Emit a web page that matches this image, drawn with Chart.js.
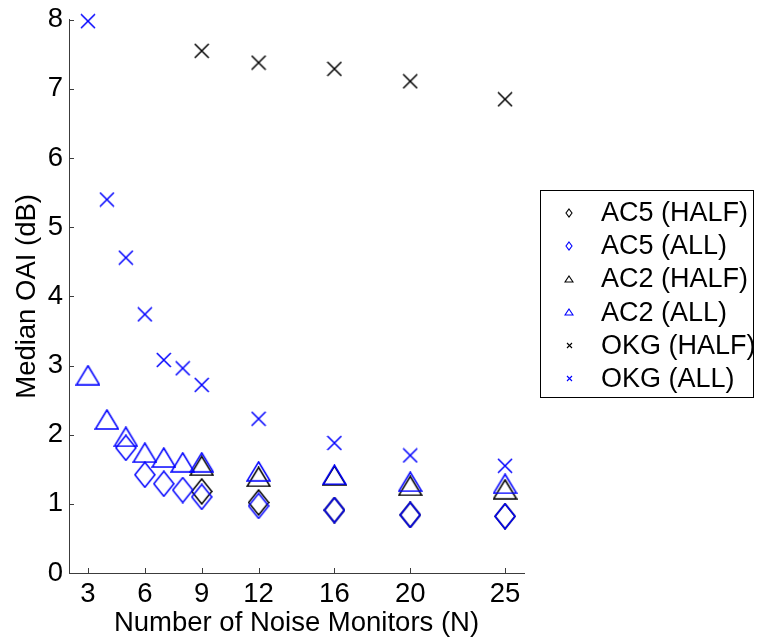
<!DOCTYPE html>
<html>
<head>
<meta charset="utf-8">
<title>Median OAI vs number of noise monitors</title>
<script src="https://cdn.jsdelivr.net/npm/chart.js@4.4.1/dist/chart.umd.min.js"></script>
<style>
  html, body { margin: 0; padding: 0; background: #fff; }
  #oai { display: block; }
</style>
</head>
<body>
<canvas id="oai" width="771" height="643"></canvas>
<script>
// monitor counts used by each run
const N_ALL = [3, 4, 5, 6, 7, 8, 9, 12, 16, 20, 25];
const N_AC5_ALL = [5, 6, 7, 8, 9, 12, 16, 20, 25];
const N_HALF = [9, 12, 16, 20, 25];

// axis ticks
const X_TICKS = [3, 6, 9, 12, 16, 20, 25];
const Y_TICKS = [0, 1, 2, 3, 4, 5, 6, 7, 8];

// median OAI (dB)
const ac5Half = [1.18, 1.02, 0.91, 0.84, 0.82];
const ac5All = [1.81, 1.42, 1.29, 1.20, 1.10, 0.97, 0.91, 0.84, 0.82];
const ac2Half = [1.55, 1.39, 1.41, 1.26, 1.21];
const ac2All = [2.86, 2.22, 1.97, 1.74, 1.67, 1.60, 1.60, 1.47, 1.42, 1.32, 1.29];
const okgHalf = [7.55, 7.38, 7.29, 7.11, 6.85];
const okgAll = [7.98, 5.40, 4.56, 3.74, 3.08, 2.96, 2.72, 2.23, 1.88, 1.70, 1.55];

const FONT = { family: '"Liberation Sans", Arial, Helvetica, sans-serif', size: 27.5, lineHeight: 1 };
const LEGEND_FONT_SIZE = 27;
const AXIS_COLOR = '#3c3c3c';
const BLACK = '#000000';
const BLUE = '#0000ff';

// outline markers drawn onto small canvases (used as pointStyle)
function marker(shape, color, w, h, lw) {
  const c = document.createElement('canvas');
  c.width = w + 2;
  c.height = h + 2;
  const g = c.getContext('2d');
  g.strokeStyle = color;
  g.lineWidth = lw;
  g.beginPath();
  if (shape === 'diamond') {
    g.moveTo(1 + w / 2, 1);
    g.lineTo(1 + w, 1 + h / 2);
    g.lineTo(1 + w / 2, 1 + h);
    g.lineTo(1, 1 + h / 2);
    g.closePath();
  } else if (shape === 'triangle') {
    g.moveTo(1 + w / 2, 1);
    g.lineTo(1 + w, 1 + h);
    g.lineTo(1, 1 + h);
    g.closePath();
  } else {
    g.moveTo(1, 1);
    g.lineTo(1 + w, 1 + h);
    g.moveTo(1 + w, 1);
    g.lineTo(1, 1 + h);
  }
  g.stroke();
  return c;
}

const SIZES = { diamond: [20, 25], triangle: [23, 19], cross: [14, 14] };
const LEGEND_SIZES = { diamond: [6, 8], triangle: [8, 6], cross: [5, 5] };

const series = [
  { label: 'AC5 (HALF)', n: N_HALF, v: ac5Half, shape: 'diamond', color: BLACK },
  { label: 'AC5 (ALL)', n: N_AC5_ALL, v: ac5All, shape: 'diamond', color: BLUE },
  { label: 'AC2 (HALF)', n: N_HALF, v: ac2Half, shape: 'triangle', color: BLACK },
  { label: 'AC2 (ALL)', n: N_ALL, v: ac2All, shape: 'triangle', color: BLUE },
  { label: 'OKG (HALF)', n: N_HALF, v: okgHalf, shape: 'cross', color: BLACK },
  { label: 'OKG (ALL)', n: N_ALL, v: okgAll, shape: 'cross', color: BLUE }
];

const datasets = series.map((s, i) => ({
  label: s.label,
  data: s.n.map((n, k) => ({ x: n, y: s.v[k] })),
  pointStyle: marker(s.shape, s.color, ...SIZES[s.shape], 1.5),
  legendMarker: marker(s.shape, s.color, ...LEGEND_SIZES[s.shape], 1.1),
  pointRadius: 10,
  borderColor: s.color,
  backgroundColor: 'transparent',
  showLine: false,
  clip: false,
  order: series.length - i
}));

// short tick marks pointing into the plot area
const innerTicks = {
  id: 'innerTicks',
  beforeDatasetsDraw(chart) {
    const { ctx, chartArea: a, scales: { x, y } } = chart;
    ctx.save();
    ctx.strokeStyle = AXIS_COLOR;
    ctx.lineWidth = 1;
    ctx.beginPath();
    X_TICKS.forEach(v => {
      const px = Math.round(x.getPixelForValue(v)) + 0.5;
      ctx.moveTo(px, a.bottom);
      ctx.lineTo(px, a.bottom - 5);
    });
    Y_TICKS.forEach(v => {
      const py = Math.round(y.getPixelForValue(v)) + 0.5;
      ctx.moveTo(a.left, py);
      ctx.lineTo(a.left + 5, py);
    });
    ctx.stroke();
    ctx.restore();
  }
};

// boxed legend to the right of the axes
const boxLegend = {
  id: 'boxLegend',
  afterDraw(chart) {
    const { ctx } = chart;
    const left = 540, top = 190, width = 213, height = 207;
    const rowGap = 33.2, firstRow = 212.5;
    ctx.save();
    ctx.fillStyle = '#fff';
    ctx.fillRect(left, top, width, height);
    ctx.strokeStyle = BLACK;
    ctx.lineWidth = 1;
    ctx.strokeRect(left + 0.5, top + 0.5, width, height);
    ctx.font = `${LEGEND_FONT_SIZE}px ${FONT.family}`;
    ctx.fillStyle = BLACK;
    ctx.textBaseline = 'middle';
    ctx.textAlign = 'left';
    chart.data.datasets.forEach((ds, i) => {
      const cy = firstRow + i * rowGap;
      const m = ds.legendMarker;
      ctx.drawImage(m, Math.round(569 - m.width / 2), Math.round(cy - m.height / 2));
      ctx.fillText(ds.label, 601, cy + 1);
    });
    ctx.restore();
  }
};

new Chart(document.getElementById('oai'), {
  type: 'scatter',
  data: { datasets },
  plugins: [innerTicks, boxLegend],
  options: {
    responsive: false,
    animation: false,
    events: [],
    layout: { padding: { top: 18, right: 247, bottom: 0, left: 0 } },
    plugins: {
      legend: { display: false },
      tooltip: { enabled: false }
    },
    scales: {
      x: {
        type: 'linear',
        min: 2,
        max: 26,
        afterBuildTicks: s => { s.ticks = X_TICKS.map(v => ({ value: v })); },
        afterFit: s => { s.height = 70; },
        grid: { display: false, drawTicks: false },
        border: { display: true, color: AXIS_COLOR, width: 1 },
        ticks: { color: BLACK, font: FONT, padding: 8, maxRotation: 0, autoSkip: false },
        title: {
          display: true,
          text: 'Number of Noise Monitors (N)',
          color: BLACK,
          font: FONT,
          padding: { top: 0, bottom: 6 }
        }
      },
      y: {
        type: 'linear',
        min: 0,
        max: 8,
        afterBuildTicks: s => { s.ticks = Y_TICKS.map(v => ({ value: v })); },
        afterFit: s => { s.width = 69; },
        grid: { display: false, drawTicks: false },
        border: { display: true, color: AXIS_COLOR, width: 1 },
        ticks: { color: BLACK, font: FONT, padding: 6 },
        title: {
          display: true,
          text: 'Median OAI (dB)',
          color: BLACK,
          font: FONT,
          padding: { top: 14, bottom: 0 }
        }
      }
    }
  }
});
</script>
</body>
</html>
